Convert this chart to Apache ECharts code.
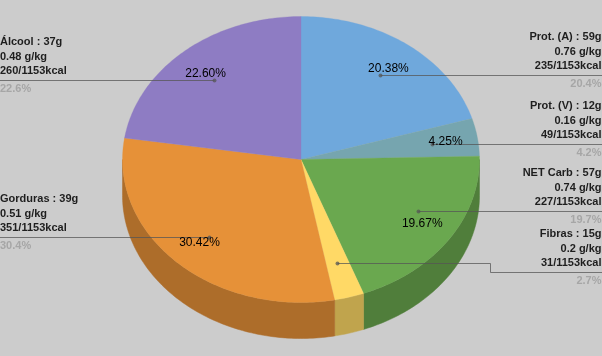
<!DOCTYPE html>
<html>
<head>
<meta charset="utf-8">
<style>
    html, body { margin: 0; padding: 0; background: #cccccc; }
    #chart { width: 602px; height: 356px; }
</style>
<script src="https://cdn.jsdelivr.net/npm/echarts@6/dist/echarts.min.js"></script>
</head>
<body>
<div id="chart"></div>
<script>
    // dados
    var categories = ["Prot. (A)", "Prot. (V)", "NET Carb", "Fibras", "Gorduras", "Álcool"];
    var percents = [20.38, 4.25, 19.67, 2.68, 30.42, 22.60];
    var grams = [59, 12, 57, 15, 39, 37];
    var gramsPerKg = ["0.76", "0.16", "0.74", "0.2", "0.51", "0.48"];
    var kcal = [235, 49, 227, 31, 351, 260];
    var shortPercents = ["20.4%", "4.2%", "19.7%", "2.7%", "30.4%", "22.6%"];
    var totalKcal = 1153;

    var colors = ["#6fa8dc", "#76a5af", "#6aa84f", "#ffd966", "#e69138", "#8e7cc3"];
    var sideColors = ["#537ea5", "#597c83", "#507e3b", "#c0a44d", "#ad6d2a", "#6a5d92"];
    var showInnerLabel = [true, true, true, false, true, true];
    // o ponto da linha do NET Carb nao fica no meio da fatia
    var anchorShift = [0, 0, -6, 0, 0, 0];

    var cx = 301, cy = 159.5, rx = 178.5, ry = 143, depth = 36;
    var elbowX = 490, elbowDrop = 9;

    var total = percents.reduce(function (a, b) { return a + b; }, 0);

    function toRad(deg) {
        return deg * Math.PI / 180;
    }

    // angulo em graus a partir do topo, sentido horario
    function ellipsePoint(deg, scale, dy, scaleY) {
        return [
            cx + rx * scale * Math.sin(toRad(deg)),
            cy + (dy || 0) - ry * (scaleY || scale) * Math.cos(toRad(deg))
        ];
    }

    function sliceRange(index) {
        var start = 0;
        for (var i = 0; i < index; i++) {
            start += percents[i];
        }
        return [start / total * 360, (start + percents[index]) / total * 360];
    }

    function arcPoints(from, to, dy) {
        var points = [];
        for (var a = from; a < to; a += 1) {
            points.push(ellipsePoint(a, 1, dy));
        }
        points.push(ellipsePoint(to, 1, dy));
        return points;
    }

    function anchorPoint(index) {
        var range = sliceRange(index);
        var p = ellipsePoint((range[0] + range[1]) / 2 + anchorShift[index], 0.745, 1);
        return [Math.round(p[0]) + 0.5, Math.round(p[1]) + 0.5];
    }

    function renderSide(params) {
        var range = sliceRange(params.dataIndex);
        var from = Math.max(range[0], 90);
        var to = Math.min(range[1], 270);
        if (to <= from) {
            return { type: "group", children: [] };
        }
        var points = arcPoints(from, to, 0).concat(arcPoints(from, to, depth).reverse());
        return {
            type: "polygon",
            shape: { points: points },
            style: { fill: sideColors[params.dataIndex], stroke: sideColors[params.dataIndex], lineWidth: 0.5 }
        };
    }

    function renderTop(params) {
        var range = sliceRange(params.dataIndex);
        var points = [[cx, cy]].concat(arcPoints(range[0], range[1], 0));
        return {
            type: "polygon",
            shape: { points: points },
            style: { fill: colors[params.dataIndex], stroke: colors[params.dataIndex], lineWidth: 0.3 }
        };
    }

    function renderLeader(params, api) {
        var i = params.dataIndex;
        var range = sliceRange(i);
        var isRight = (range[0] + range[1]) / 2 < 180;
        var a = anchorPoint(i);
        var endX = isRight ? api.getWidth() : 0;
        var points = [a];
        var lineY = a[1];
        // Fibras desce um pouco para nao encostar no texto do NET Carb
        if (categories[i] === "Fibras") {
            lineY = a[1] + elbowDrop;
            points.push([elbowX + 0.5, a[1]], [elbowX + 0.5, lineY]);
        }
        points.push([endX, lineY]);

        var font = "bold 11px 'Liberation Sans', Arial, sans-serif";
        var textX = isRight ? api.getWidth() - 0.5 : 0;
        var rows = [
            { text: categories[i] + " : " + grams[i] + "g", dy: -38.2, fill: "#1e1e1e" },
            { text: gramsPerKg[i] + " g/kg", dy: -23.5, fill: "#1e1e1e" },
            { text: kcal[i] + "/" + totalKcal + "kcal", dy: -9.5, fill: "#1e1e1e" },
            { text: shortPercents[i], dy: 8.6, fill: "#a6a6a6" }
        ];
        var children = [
            {
                type: "polyline",
                shape: { points: points },
                style: { stroke: "#555555", opacity: 0.75, lineWidth: 1, fill: null }
            },
            {
                type: "circle",
                shape: { cx: a[0], cy: a[1], r: 2 },
                style: { fill: "#555555", opacity: 0.75 }
            }
        ];
        rows.forEach(function (row) {
            children.push({
                type: "text",
                style: {
                    text: row.text,
                    x: textX,
                    y: lineY + row.dy,
                    font: font,
                    fill: row.fill,
                    align: isRight ? "right" : "left",
                    verticalAlign: "middle"
                }
            });
        });
        return { type: "group", children: children };
    }

    function renderInnerLabel(params) {
        var i = params.dataIndex;
        if (!showInnerLabel[i]) {
            return { type: "group", children: [] };
        }
        var range = sliceRange(i);
        var p = ellipsePoint((range[0] + range[1]) / 2, 0.82, 0.5, 0.8);
        return {
            type: "text",
            style: {
                text: percents[i].toFixed(2) + "%",
                x: p[0],
                y: p[1],
                font: "12px 'Liberation Sans', Arial, sans-serif",
                fill: "#000000",
                align: "center",
                verticalAlign: "middle"
            }
        };
    }

    function layer(name, renderItem, z) {
        return {
            type: "custom",
            name: name,
            coordinateSystem: "none",
            renderItem: renderItem,
            data: percents,
            silent: true,
            animation: false,
            clip: false,
            z: z
        };
    }

    var myChart = echarts.init(document.getElementById("chart"), null, { renderer: "canvas" });
    myChart.setOption({
        backgroundColor: "#cccccc",
        animation: false,
        series: [
            layer("lateral", renderSide, 1),
            layer("fatias", renderTop, 2),
            layer("linhas", renderLeader, 3),
            layer("percentuais", renderInnerLabel, 4)
        ]
    });
</script>
</body>
</html>
